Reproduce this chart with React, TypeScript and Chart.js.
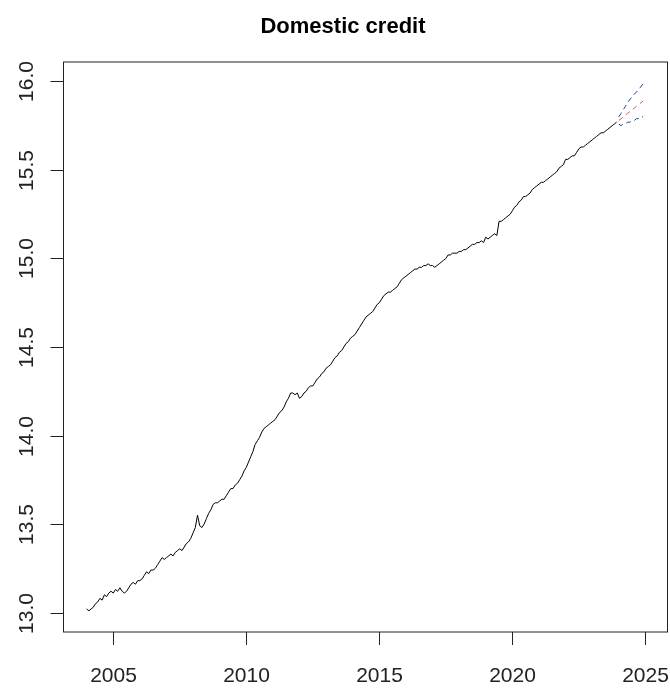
import React, { useEffect, useRef } from "react";
import { Chart, registerables } from "chart.js";

Chart.register(...registerables);

const TITLE = "Domestic credit";
const START_YEAR = 2004; // monthly series, first observation Jan 2004
const FORECAST_START = 2024; // monthly forecast, Jan 2024

// Observed log-level, monthly (Jan..Dec per row)
const OBS_2004_2008 = [
  13.02, 13.01, 13.02, 13.03, 13.05, 13.06, 13.08, 13.07, 13.10, 13.09, 13.11, 13.12,
  13.11, 13.13, 13.12, 13.14, 13.12, 13.11, 13.12, 13.14, 13.16, 13.17, 13.16, 13.18,
  13.18, 13.19, 13.21, 13.23, 13.22, 13.24, 13.24, 13.25, 13.27, 13.29, 13.31, 13.30,
  13.31, 13.32, 13.33, 13.32, 13.34, 13.35, 13.36, 13.35, 13.37, 13.39, 13.40, 13.42,
  13.45, 13.48, 13.55, 13.49, 13.48, 13.50, 13.53, 13.56, 13.58, 13.61, 13.62, 13.62,
];
const OBS_2009_2013 = [
  13.63, 13.64, 13.64, 13.66, 13.68, 13.70, 13.70, 13.72, 13.73, 13.75, 13.77, 13.80,
  13.82, 13.85, 13.88, 13.91, 13.95, 13.97, 13.99, 14.02, 14.04, 14.05, 14.06, 14.07,
  14.08, 14.09, 14.11, 14.13, 14.14, 14.16, 14.19, 14.21, 14.24, 14.24, 14.23, 14.24,
  14.21, 14.22, 14.24, 14.25, 14.27, 14.28, 14.28, 14.30, 14.32, 14.33, 14.35, 14.36,
  14.38, 14.39, 14.40, 14.42, 14.44, 14.45, 14.47, 14.48, 14.50, 14.52, 14.53, 14.55,
];
const OBS_2014_2018 = [
  14.56, 14.57, 14.59, 14.61, 14.63, 14.65, 14.67, 14.68, 14.69, 14.70, 14.72, 14.74,
  14.75, 14.77, 14.79, 14.80, 14.81, 14.81, 14.82, 14.83, 14.84, 14.86, 14.88, 14.89,
  14.90, 14.91, 14.92, 14.93, 14.94, 14.94, 14.95, 14.95, 14.96, 14.96, 14.97, 14.96,
  14.96, 14.95, 14.96, 14.97, 14.98, 14.99, 15.00, 15.02, 15.02, 15.03, 15.03, 15.03,
  15.04, 15.04, 15.05, 15.05, 15.06, 15.07, 15.08, 15.08, 15.09, 15.09, 15.10, 15.09,
];
const OBS_2019_2023 = [
  15.12, 15.11, 15.12, 15.13, 15.14, 15.13, 15.21, 15.21, 15.22, 15.23, 15.24, 15.25,
  15.27, 15.29, 15.30, 15.32, 15.33, 15.35, 15.35, 15.36, 15.37, 15.39, 15.40, 15.41,
  15.42, 15.43, 15.43, 15.44, 15.45, 15.46, 15.47, 15.48, 15.49, 15.51, 15.52, 15.53,
  15.56, 15.56, 15.57, 15.58, 15.58, 15.60, 15.62, 15.63, 15.63, 15.64, 15.65, 15.66,
  15.67, 15.68, 15.69, 15.70, 15.71, 15.71, 15.72, 15.73, 15.74, 15.75, 15.76, 15.77,
];

// Forecast, Jan..Dec 2024
const FC_MEAN = [15.78, 15.79, 15.80, 15.81, 15.82, 15.83, 15.84, 15.85, 15.86, 15.87, 15.88, 15.89];
const FC_UPPER = [15.80, 15.82, 15.84, 15.86, 15.88, 15.90, 15.91, 15.93, 15.94, 15.96, 15.97, 15.99];
const FC_LOWER = [15.76, 15.75, 15.76, 15.76, 15.77, 15.77, 15.78, 15.78, 15.79, 15.79, 15.80, 15.80];

const X_TICKS = [2005, 2010, 2015, 2020, 2025];
const Y_TICKS = [13.0, 13.5, 14.0, 14.5, 15.0, 15.5, 16.0];
const X_RANGE = [2003.13, 2025.83];
const Y_RANGE = [12.89, 16.11];

const W = 670;
const H = 690;
const BOX_LEFT = 63.5;
const BOX_RIGHT = 667.5;
const BOX_TOP = 62;
const BOX_BOTTOM = 632;
const TITLE_X = 343;
const FONT = '"Liberation Sans", Arial, sans-serif';

function toPoints(values: number[], start: number) {
  return values.map((v, i) => ({ x: start + i / 12, y: v }));
}

const rBase = {
  id: "rBase",
  afterDraw(chart: any) {
    const { ctx, chartArea } = chart;
    const xs = chart.scales.x;
    const ys = chart.scales.y;
    ctx.save();
    ctx.strokeStyle = "#222";
    ctx.lineWidth = 1;
    ctx.strokeRect(chartArea.left, chartArea.top, chartArea.right - chartArea.left, chartArea.bottom - chartArea.top);

    ctx.fillStyle = "#222";
    ctx.font = `21px ${FONT}`;
    X_TICKS.forEach((t) => {
      const px = Math.round(xs.getPixelForValue(t)) + 0.5;
      ctx.beginPath();
      ctx.moveTo(px, chartArea.bottom);
      ctx.lineTo(px, chartArea.bottom + 13);
      ctx.stroke();
      ctx.textAlign = "center";
      ctx.textBaseline = "alphabetic";
      ctx.fillText(String(t), px, 682);
    });
    Y_TICKS.forEach((t) => {
      const py = Math.round(ys.getPixelForValue(t)) + 0.5;
      ctx.beginPath();
      ctx.moveTo(chartArea.left, py);
      ctx.lineTo(chartArea.left - 13, py);
      ctx.stroke();
      ctx.save();
      ctx.translate(33, py);
      ctx.rotate(-Math.PI / 2);
      ctx.textAlign = "center";
      ctx.textBaseline = "alphabetic";
      ctx.fillText(t.toFixed(1), 0, 0);
      ctx.restore();
    });
    ctx.font = `bold 22px ${FONT}`;
    ctx.fillStyle = "#000";
    ctx.textAlign = "center";
    ctx.textBaseline = "alphabetic";
    ctx.fillText(TITLE, TITLE_X, 33);
    ctx.restore();
  },
};

export default function App() {
  const ref = useRef<HTMLCanvasElement | null>(null);

  useEffect(() => {
    if (!ref.current) return;
    const observed = [...OBS_2004_2008, ...OBS_2009_2013, ...OBS_2014_2018, ...OBS_2019_2023];
    const dashed = (values: number[], color: string) => ({
      data: toPoints(values, FORECAST_START),
      borderColor: color,
      borderWidth: 1,
      borderDash: [5, 4],
      pointRadius: 0,
      tension: 0,
    });
    const chart = new Chart(ref.current, {
      type: "line",
      data: {
        datasets: [
          {
            data: toPoints(observed, START_YEAR),
            borderColor: "#000",
            borderWidth: 1,
            pointRadius: 0,
            tension: 0,
          },
          dashed(FC_UPPER, "#2d3c9c"),
          dashed(FC_MEAN, "#c85a50"),
          dashed(FC_LOWER, "#2d3c9c"),
        ],
      },
      options: {
        animation: false,
        responsive: false,
        devicePixelRatio: 1,
        layout: { padding: { top: BOX_TOP, left: 0, right: W - BOX_RIGHT, bottom: 0 } },
        plugins: { legend: { display: false }, tooltip: { enabled: false }, title: { display: false } },
        scales: {
          x: {
            type: "linear",
            min: X_RANGE[0],
            max: X_RANGE[1],
            grid: { display: false },
            border: { display: false },
            ticks: { display: false },
            afterFit: (s: any) => {
              s.height = H - BOX_BOTTOM;
            },
          },
          y: {
            type: "linear",
            min: Y_RANGE[0],
            max: Y_RANGE[1],
            grid: { display: false },
            border: { display: false },
            ticks: { display: false },
            afterFit: (s: any) => {
              s.width = BOX_LEFT;
            },
          },
        },
      },
      plugins: [rBase],
    });
    return () => chart.destroy();
  }, []);

  return (
    <div style={{ position: "fixed", left: 0, top: 0, width: W, height: H, background: "#fff" }}>
      <canvas ref={ref} width={W} height={H} style={{ display: "block" }} />
    </div>
  );
}
